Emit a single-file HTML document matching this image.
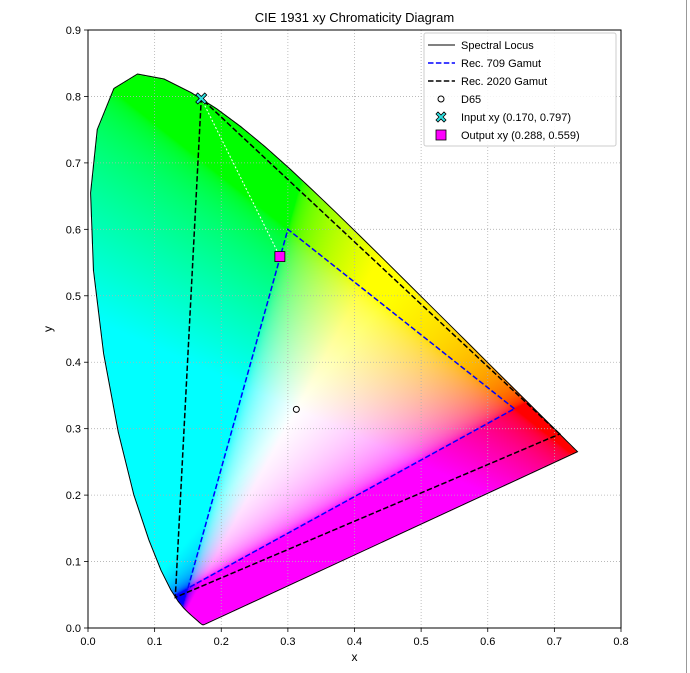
<!DOCTYPE html>
<html><head><meta charset="utf-8"><style>
body{margin:0;background:#fff;width:690px;height:673px;overflow:hidden;position:relative;font-family:"Liberation Sans","DejaVu Sans",sans-serif}
#fill{position:absolute;left:0;top:0}
#svg{position:absolute;left:0;top:0}
</style></head><body>
<canvas id="fill" width="690" height="673"></canvas>
<svg id="svg" width="690" height="673" font-family="Liberation Sans, DejaVu Sans, sans-serif"></svg>
<script>
const xTicks=[0.0,0.1,0.2,0.3,0.4,0.5,0.6,0.7,0.8];
const yTicks=[0.0,0.1,0.2,0.3,0.4,0.5,0.6,0.7,0.8,0.9];
const locusX=[0.1741,0.1740,0.1738,0.1736,0.1733,0.1730,0.1726,0.1721,0.1714,0.1703,0.1689,0.1669,0.1644,0.1611,0.1566,0.1510,0.1440,0.1355,0.1241,0.1096,0.0913,0.0687,0.0454,0.0235,0.0082,0.0039,0.0139,0.0389,0.0743,0.1142,0.1547,0.1929,0.2296,0.2658,0.3016,0.3373,0.3731,0.4087,0.4441,0.4788,0.5125,0.5448,0.5752,0.6029,0.6270,0.6482,0.6658,0.6801,0.6915,0.7006,0.7079,0.7140,0.7190,0.7230,0.7260,0.7283,0.7300,0.7311,0.7320,0.7327,0.7334,0.7347];
const locusY=[0.0050,0.0050,0.0049,0.0049,0.0048,0.0048,0.0048,0.0048,0.0051,0.0058,0.0069,0.0086,0.0109,0.0138,0.0177,0.0227,0.0297,0.0399,0.0578,0.0868,0.1327,0.2007,0.2950,0.4127,0.5384,0.6548,0.7502,0.8120,0.8338,0.8262,0.8059,0.7816,0.7543,0.7243,0.6923,0.6589,0.6245,0.5896,0.5547,0.5202,0.4866,0.4544,0.4242,0.3965,0.3725,0.3514,0.3340,0.3197,0.3083,0.2993,0.2920,0.2859,0.2809,0.2770,0.2740,0.2717,0.2700,0.2689,0.2680,0.2673,0.2666,0.2653];
const rec709X=[0.64,0.30,0.15];
const rec709Y=[0.33,0.60,0.06];
const rec2020X=[0.708,0.170,0.131];
const rec2020Y=[0.292,0.797,0.046];
const d65=[0.3127,0.3290];
const inputXY=[0.170,0.797];
const outputXY=[0.288,0.559];

const L=88,R=621,T=30,B=628;
const sx=v=>L+(v-0)/(0.8-0)*(R-L);
const sy=v=>B-(v-0)/(0.9-0)*(B-T);
const NS="http://www.w3.org/2000/svg";
const svg=document.getElementById('svg');
function mk(tag,attrs,parent){const e=document.createElementNS(NS,tag);for(const k in attrs)e.setAttribute(k,attrs[k]);(parent||svg).appendChild(e);return e;}

const cv=document.getElementById('fill');const ctx=cv.getContext('2d');
ctx.beginPath();locusX.forEach((x,i)=>{i?ctx.lineTo(sx(x),sy(locusY[i])):ctx.moveTo(sx(x),sy(locusY[i]));});ctx.closePath();
const img=ctx.createImageData(R-L,B-T);
const g=c=>c<=0.0031308?12.92*c:1.055*Math.pow(c,1/2.4)-0.055;
const cl=v=>Math.min(1,Math.max(0,v));
for(let py=0;py<B-T;py++){for(let px=0;px<R-L;px++){
 const i=(py*(R-L)+px)*4;
 const X0=L+px+0.5,Y0=T+py+0.5;
 if(!ctx.isPointInPath(X0,Y0)){img.data[i+3]=0;continue;}
 const x=(X0-L)/(R-L)*0.8,y=(B-Y0)/(B-T)*0.9;
 const X=x/y,Y=1,Z=(1-x-y)/y;
 let r=3.2406*X-1.5372*Y-0.4986*Z,gg=-0.9689*X+1.8758*Y+0.0415*Z,b=0.0557*X-0.2040*Y+1.0570*Z;
 img.data[i]=255*g(cl(r));img.data[i+1]=255*g(cl(gg));img.data[i+2]=255*g(cl(b));img.data[i+3]=255;}}
ctx.putImageData(img,L,T);

const t=mk('text',{x:(L+R)/2,y:22,'text-anchor':'middle','font-size':13,fill:'#000',});t.textContent='CIE 1931 xy Chromaticity Diagram';
xTicks.forEach(v=>{const X=sx(v);
 const gl=mk('line',{x1:X,x2:X,y1:T,y2:B,stroke:'#b0b0b0','stroke-width':0.8,'stroke-dasharray':'1,2'});
 
 const tk=mk('line',{x1:X,x2:X,y1:B,y2:B+4,stroke:'#000','stroke-width':0.8});
 
 const tl=mk('text',{x:X,y:B+17,'text-anchor':'middle','font-size':11});tl.textContent=v.toFixed(1);
 });
yTicks.forEach(v=>{const Y=sy(v);
 const gl=mk('line',{x1:L,x2:R,y1:Y,y2:Y,stroke:'#b0b0b0','stroke-width':0.8,'stroke-dasharray':'1,2'});
 
 const tk=mk('line',{x1:L-4,x2:L,y1:Y,y2:Y,stroke:'#000','stroke-width':0.8});
 
 const tl=mk('text',{x:L-7,y:Y+4,'text-anchor':'end','font-size':11});tl.textContent=v.toFixed(1);
 });
const xl=mk('text',{x:(L+R)/2,y:661,'text-anchor':'middle','font-size':12,});xl.textContent='x';
const yl=mk('text',{x:52,y:(T+B)/2,'text-anchor':'middle','font-size':12,transform:`rotate(-90 52 ${(T+B)/2})`,});yl.textContent='y';

mk('path',{d:'M'+locusX.map((x,i)=>sx(x)+','+sy(locusY[i])).join('L')+'Z',fill:'none',stroke:'#000','stroke-width':1,});
mk('path',{d:'M'+rec709X.map((x,i)=>sx(x)+','+sy(rec709Y[i])).join('L')+'Z',fill:'none',stroke:'#0000ff','stroke-width':1.5,'stroke-dasharray':'5.5,2.4',});
mk('path',{d:'M'+rec2020X.map((x,i)=>sx(x)+','+sy(rec2020Y[i])).join('L')+'Z',fill:'none',stroke:'#000','stroke-width':1.5,'stroke-dasharray':'5.5,2.4',});
mk('line',{x1:sx(inputXY[0]),y1:sy(inputXY[1]),x2:sx(outputXY[0]),y2:sy(outputXY[1]),stroke:'#fff','stroke-width':1,'stroke-dasharray':'2,2',});
mk('circle',{cx:sx(d65[0]),cy:sy(d65[1]),r:3,fill:'#fff',stroke:'#000','stroke-width':1,});
function xmark(cx,cy,s,parent,name){const p=`M${cx-s},${cy-s+2}l2,-2l${s-2},${s-2}l${s-2},${-(s-2)}l2,2l${-(s-2)},${s-2}l${s-2},${s-2}l-2,2l${-(s-2)},${-(s-2)}l${-(s-2)},${s-2}l-2,-2l${s-2},${-(s-2)}z`;
 return mk('path',{d:p,fill:'#30e0e0',stroke:'#000','stroke-width':0.8,},parent);}
xmark(sx(inputXY[0]),sy(inputXY[1]),5.5,svg,'input-point');
mk('rect',{x:sx(outputXY[0])-5,y:sy(outputXY[1])-5,width:10,height:10,fill:'#ff00ff',stroke:'#000','stroke-width':0.8,});
mk('rect',{x:L,y:T,width:R-L,height:B-T,fill:'none',stroke:'#000','stroke-width':1,});
mk('line',{x1:686.5,x2:686.5,y1:0,y2:673,stroke:'#999','stroke-width':1,});
const lg=mk('g',{});
mk('rect',{x:424,y:33,width:192,height:113,rx:2,fill:'#fff','fill-opacity':0.85,stroke:'#ccc',},lg);
const labels=['Spectral Locus','Rec. 709 Gamut','Rec. 2020 Gamut','D65','Input xy (0.170, 0.797)','Output xy (0.288, 0.559)'];
labels.forEach((s,i)=>{const y=45+i*18;
 if(i==0)mk('line',{x1:428,x2:455,y1:y,y2:y,stroke:'#000','stroke-width':1},lg);
 if(i==1)mk('line',{x1:428,x2:455,y1:y,y2:y,stroke:'#0000ff','stroke-width':1.5,'stroke-dasharray':'5.5,2.4'},lg);
 if(i==2)mk('line',{x1:428,x2:455,y1:y,y2:y,stroke:'#000','stroke-width':1.5,'stroke-dasharray':'5.5,2.4'},lg);
 if(i==3)mk('circle',{cx:441,cy:y,r:3,fill:'#fff',stroke:'#000'},lg);
 if(i==4)xmark(441,y,5,lg,'legend-input-marker');
 if(i==5)mk('rect',{x:436,y:y-5,width:10,height:10,fill:'#ff00ff',stroke:'#000','stroke-width':0.8},lg);
 const tx=mk('text',{x:461,y:y+4,'font-size':11},lg);tx.textContent=s;
 });
</script>
</body></html>
